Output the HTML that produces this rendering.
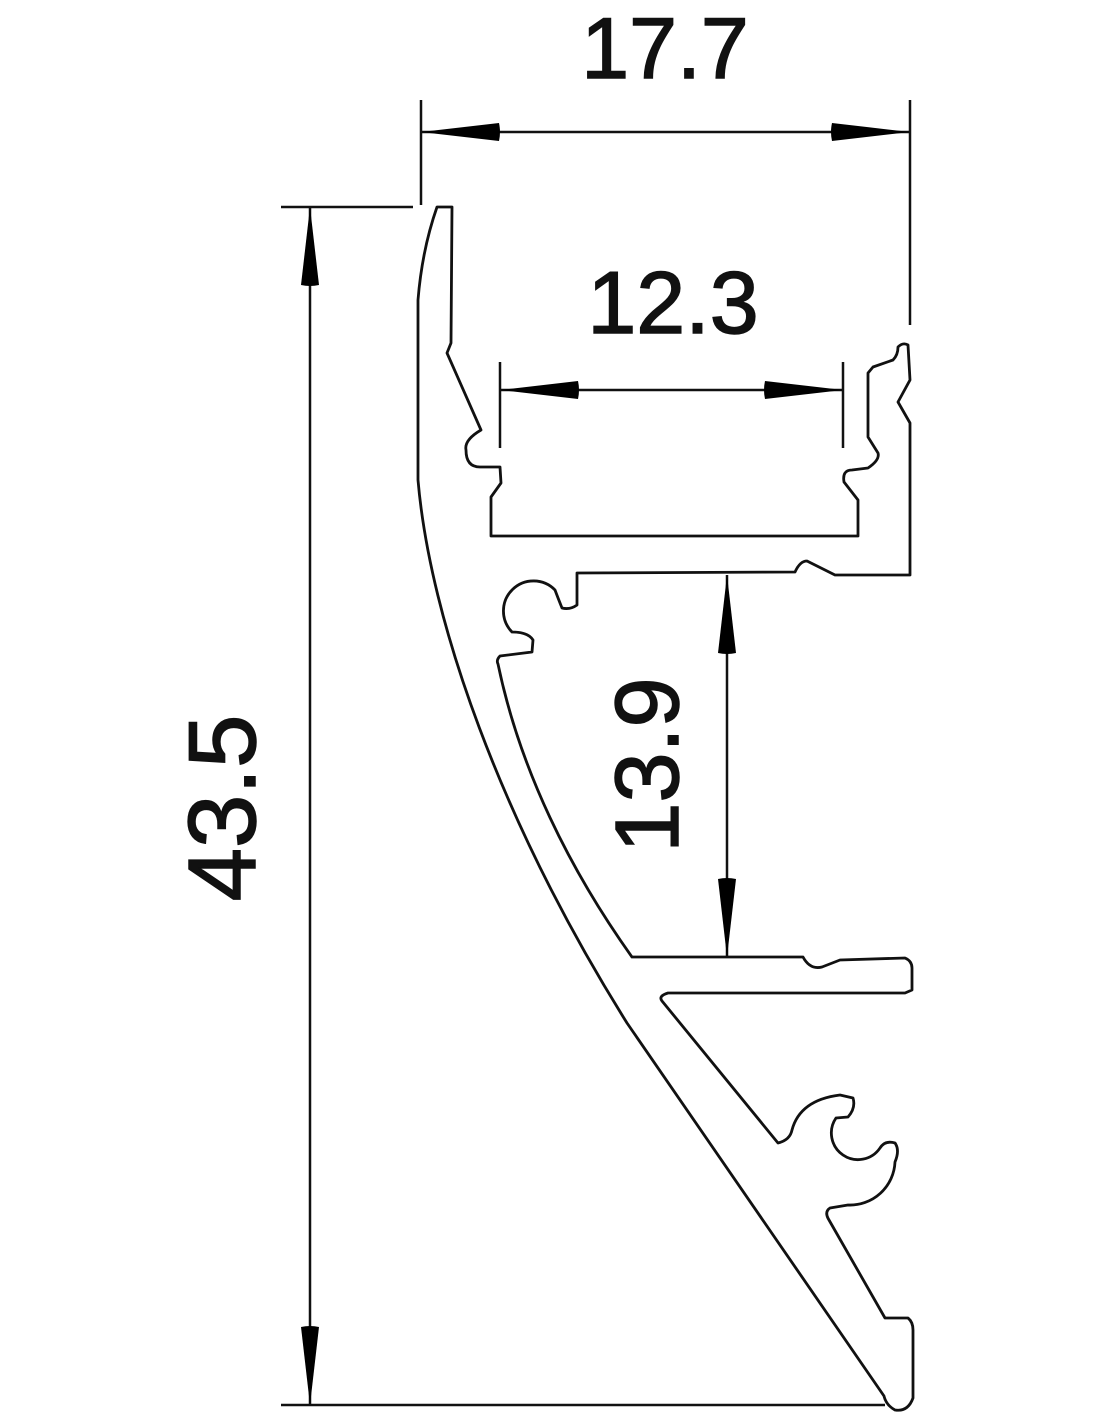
<!DOCTYPE html>
<html><head><meta charset="utf-8"><style>html,body{margin:0;padding:0;background:#fff}svg{display:block}</style></head>
<body>
<svg width="1100" height="1422" viewBox="0 0 1100 1422" xmlns="http://www.w3.org/2000/svg">
<defs>
<marker id="a" viewBox="0 0 80 20" refX="80" refY="10" markerWidth="80" markerHeight="20" markerUnits="userSpaceOnUse" orient="auto-start-reverse">
<path d="M80,10 L2,1 Q0,10 2,19 Z" fill="#000"/></marker>
</defs>
<g stroke="#111" stroke-width="2.5" fill="none">
<line x1="421" y1="100" x2="421" y2="205"/>
<line x1="910" y1="100" x2="910" y2="325"/>
<line x1="421" y1="132" x2="910" y2="132" marker-start="url(#a)" marker-end="url(#a)"/>
<line x1="281" y1="207" x2="413" y2="207"/>
<line x1="281" y1="1405" x2="885" y2="1405"/>
<line x1="310" y1="207" x2="310" y2="1405" marker-start="url(#a)" marker-end="url(#a)"/>
<line x1="500" y1="362" x2="500" y2="448"/>
<line x1="843" y1="362" x2="843" y2="448"/>
<line x1="500" y1="390" x2="843" y2="390" marker-start="url(#a)" marker-end="url(#a)"/>
<line x1="727" y1="575" x2="727" y2="957" marker-start="url(#a)" marker-end="url(#a)"/>
</g>
<path fill="none" stroke="#111" stroke-width="2.8" stroke-linejoin="round" d="
M437,207 L452,207 L451,343 L447,353 L481,430 Q464,440 466,450 Q466,467 480,467 L500,467 L501,483 L491,497 L491,536 L858,536 L858,500 L844,482 Q842,470 852,470 L868,468 Q880,460 878,453 L868,437 L868,373 L873,367 L893,360 Q898,355 898,347 Q903,342 908,345 L910,380 L898,402 L910,423 L910,575 L835,575 L807,561 Q800,561 795,572 L577,573 L577,605 Q570,610 562,608 Q558,598 555,590 A30 30 0 1 0 512,632 Q528,632 533,640 L532,652 L500,656 Q496,660 498,664
C520,770 570,870 632,957 L803,957 Q810,970 822,967 L840,960 L905,958 Q912,961 912,968 L912,990 L905,993 L668,993 Q658,996 662,1001 L778,1143 Q790,1140 792,1130 Q800,1100 840,1095 L853,1098 Q856,1108 848,1117 L836,1118 A22 22 0 1 0 880,1148 Q885,1140 895,1143 Q900,1150 895,1162 A45 45 0 0 1 848,1205 L830,1208 Q824,1212 829,1220 L885,1318 L908,1318 Q913,1322 913,1330 L913,1398 Q908,1412 895,1410 Q886,1405 884,1396
L627,1023 C500,820 430,620 418,480 L418,300 Q422,250 437,207 Z"/>
<g font-family="Liberation Sans, sans-serif" fill="#111" stroke="#111" stroke-width="1.5" text-anchor="middle">
<text x="665" y="78" font-size="86">17.7</text>
<text x="673" y="333" font-size="88">12.3</text>
<text transform="translate(255,808) rotate(-90)" font-size="96">43.5</text>
<text transform="translate(678,765) rotate(-90)" font-size="90">13.9</text>
</g>
</svg>
</body></html>
